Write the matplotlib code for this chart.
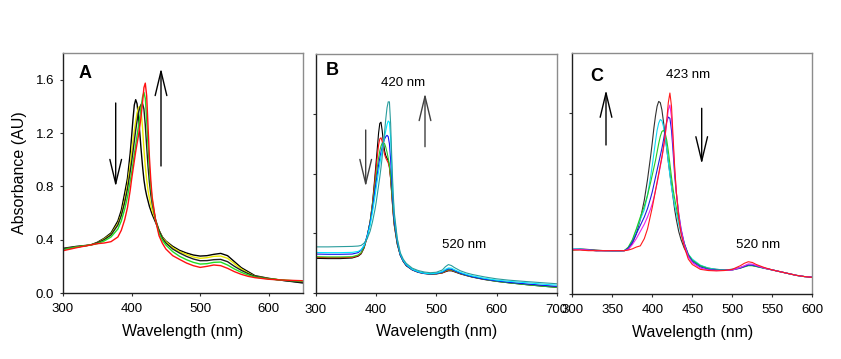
import matplotlib
matplotlib.use("Agg")
import matplotlib.pyplot as plt
from matplotlib.ticker import FormatStrFormatter

plt.rcParams['font.family'] = ['Liberation Sans', 'DejaVu Sans']

# ---------------- Panel A data ----------------
wl_a = [300, 320, 340, 350, 360, 370, 380, 385, 390, 394, 398, 400, 402, 404, 406, 408, 410, 412,
        414, 416, 418, 420, 422, 424, 426, 428, 430, 435, 440, 445, 450, 460, 470, 480, 490, 500,
        510, 520, 530, 540, 550, 560, 570, 580, 600, 620, 650]
a_black1 = [.335, .35, .36, .38, .41, .45, .54, .62, .75, .86, 1.05, 1.17, 1.30, 1.41, 1.45, 1.42, 1.32, 1.20,
            1.07, .95, .85, .78, .73, .69, .65, .62, .59, .53, .47, .42, .39, .35, .32, .30, .285, .277,
            .28, .29, .297, .28, .235, .19, .16, .13, .11, .095, .075]
a_yellow = [.33, .345, .36, .375, .405, .44, .52, .59, .70, .81, .96, 1.05, 1.14, 1.22, 1.29, 1.35, 1.39, 1.40,
            1.36, 1.24, 1.08, .95, .85, .77, .71, .66, .62, .545, .47, .415, .385, .34, .31, .29, .27, .26,
            .265, .275, .277, .26, .22, .18, .15, .125, .108, .097, .085]
a_black2 = [.33, .345, .36, .375, .40, .435, .51, .58, .68, .78, .91, .98, 1.06, 1.14, 1.22, 1.29, 1.35, 1.39,
            1.415, 1.42, 1.38, 1.26, 1.10, .95, .83, .74, .67, .55, .47, .41, .375, .33, .30, .275, .255, .242,
            .243, .25, .252, .235, .20, .17, .145, .125, .108, .095, .08]
a_green = [.325, .345, .36, .37, .39, .42, .48, .54, .63, .72, .84, .90, .97, 1.04, 1.11, 1.18, 1.25, 1.32,
           1.40, 1.47, 1.505, 1.46, 1.30, 1.10, .93, .80, .70, .545, .45, .395, .36, .31, .275, .25, .23, .217,
           .22, .23, .232, .21, .18, .155, .135, .12, .105, .097, .088]
a_red = [.317, .34, .36, .37, .375, .385, .42, .47, .55, .64, .77, .85, .92, .99, 1.06, 1.12, 1.18, 1.25,
         1.33, 1.43, 1.54, 1.574, 1.48, 1.25, 1.02, .85, .72, .546, .43, .372, .33, .28, .252, .225, .205, .192,
         .20, .21, .205, .185, .16, .14, .125, .115, .103, .097, .092]
series_a = [(a_black1, 'black'), (a_yellow, '#e8e800'), (a_black2, '#202020'),
            (a_green, '#22dd22'), (a_red, '#ff1010')]

# ---------------- Panel B data ----------------
wl_b = [300, 320, 340, 360, 370, 375, 380, 385, 390, 394, 398, 400, 402, 404, 406, 408, 410, 412, 414,
        416, 418, 420, 422, 424, 426, 428, 430, 435, 440, 445, 450, 460, 470, 480, 490, 500, 510, 515,
        520, 525, 530, 540, 550, 560, 580, 600, 620, 650, 680, 700]
b_black = [.292, .29, .29, .295, .31, .33, .38, .47, .60, .76, .98, 1.10, 1.22, 1.34, 1.42, 1.43, 1.36, 1.26, 1.19,
           1.15, 1.13, 1.11, 1.06, .96, .82, .68, .57, .41, .32, .265, .23, .195, .175, .165, .16, .162, .17, .18,
           .188, .188, .18, .162, .148, .135, .115, .10, .088, .072, .058, .05]
b_red = [.30, .298, .298, .30, .315, .335, .385, .47, .60, .75, .95, 1.05, 1.15, 1.24, 1.29, 1.30, 1.27, 1.21, 1.16,
         1.13, 1.11, 1.09, 1.05, .96, .83, .69, .58, .42, .32, .27, .235, .198, .178, .167, .162, .163, .172, .183,
         .193, .192, .183, .165, .15, .137, .117, .102, .09, .075, .062, .055]
b_green = [.306, .304, .304, .306, .32, .34, .39, .48, .60, .74, .90, .98, 1.06, 1.13, 1.19, 1.23, 1.255, 1.26, 1.25,
           1.22, 1.18, 1.13, 1.07, .98, .85, .71, .59, .42, .32, .27, .235, .198, .178, .167, .162, .164, .175, .188,
           .198, .196, .186, .166, .15, .137, .117, .10, .088, .072, .058, .05]
b_blue = [.328, .326, .326, .328, .34, .36, .40, .48, .59, .71, .86, .93, 1.0, 1.07, 1.13, 1.18, 1.22, 1.26, 1.29,
          1.31, 1.32, 1.31, 1.25, 1.12, .93, .75, .61, .43, .32, .27, .235, .197, .177, .166, .162, .165, .178, .193,
          .205, .202, .19, .168, .152, .138, .118, .104, .092, .078, .065, .058]
b_cyan = [.341, .34, .34, .342, .35, .365, .40, .47, .57, .68, .81, .88, .95, 1.02, 1.08, 1.14, 1.20, 1.26, 1.31,
          1.36, 1.41, 1.44, 1.43, 1.30, 1.05, .82, .65, .45, .33, .275, .24, .20, .18, .168, .164, .168, .182, .20,
          .212, .21, .197, .175, .158, .145, .125, .11, .10, .088, .075, .068]
b_teal = [.388, .388, .39, .392, .395, .40, .42, .455, .52, .60, .70, .76, .83, .90, .97, 1.05, 1.14, 1.24, 1.35,
          1.46, 1.55, 1.60, 1.60, 1.42, 1.12, .86, .68, .46, .34, .285, .25, .21, .19, .178, .172, .176, .195, .222,
          .24, .232, .215, .188, .17, .157, .137, .121, .11, .098, .087, .08]
series_b = [(b_black, 'black'), (b_red, '#ff1010'), (b_green, '#22cc22'), (b_blue, '#1010ee'),
            (b_cyan, '#00e8ff'), (b_teal, '#2a9d9d')]

# ---------------- Panel C data ----------------
wl_c = [300, 310, 320, 330, 340, 350, 360, 365, 370, 375, 380, 385, 390, 394, 398, 400, 402, 404, 406, 408,
        410, 412, 414, 416, 418, 420, 422, 424, 426, 428, 430, 433, 436, 440, 445, 450, 460, 470, 480, 490,
        500, 510, 515, 520, 525, 530, 540, 550, 560, 570, 580, 590, 600]
c_black = [.37, .375, .37, .365, .36, .36, .36, .36, .375, .42, .50, .62, .78, .95, 1.15, 1.26, 1.38, 1.48, 1.56, 1.60,
           1.59, 1.53, 1.43, 1.32, 1.21, 1.10, 1.0, .90, .80, .70, .62, .52, .45, .38, .32, .28, .235, .215, .205, .20,
           .205, .22, .23, .238, .237, .23, .215, .20, .185, .17, .155, .145, .14]
c_cyan = [.375, .375, .365, .36, .36, .355, .355, .36, .385, .44, .53, .62, .70, .82, .98, 1.07, 1.17, 1.27, 1.36, 1.42,
          1.45, 1.44, 1.39, 1.31, 1.21, 1.10, .99, .89, .81, .73, .68, .58, .50, .41, .33, .29, .24, .215, .205, .20,
          .205, .22, .23, .24, .24, .23, .215, .20, .185, .17, .155, .145, .14]
c_green = [.365, .37, .365, .36, .36, .36, .36, .36, .39, .45, .54, .64, .73, .82, .93, .99, 1.05, 1.11, 1.18, 1.25,
           1.31, 1.35, 1.36, 1.34, 1.28, 1.19, 1.08, .97, .87, .79, .72, .62, .52, .42, .33, .28, .235, .21, .20, .198,
           .20, .215, .225, .235, .235, .228, .213, .20, .185, .17, .155, .145, .14]
c_blue = [.37, .37, .365, .36, .36, .36, .36, .36, .38, .43, .50, .57, .64, .71, .80, .85, .91, .97, 1.03, 1.09,
          1.15, 1.21, 1.28, 1.36, 1.43, 1.47, 1.46, 1.36, 1.18, .98, .84, .67, .54, .42, .32, .27, .225, .205, .198, .197,
          .20, .215, .228, .24, .24, .232, .215, .20, .185, .17, .155, .145, .14]
c_magenta = [.37, .37, .365, .36, .36, .36, .36, .36, .37, .41, .46, .52, .58, .64, .71, .75, .80, .86, .92, .99,
             1.06, 1.13, 1.21, 1.31, 1.42, 1.53, 1.57, 1.47, 1.25, 1.03, .85, .66, .53, .41, .31, .26, .215, .20, .195, .196,
             .20, .22, .235, .25, .248, .237, .215, .20, .185, .17, .155, .145, .14]
c_red = [.365, .365, .36, .36, .36, .36, .36, .36, .365, .375, .39, .40, .46, .54, .66, .72, .79, .86, .93, 1.00,
         1.07, 1.14, 1.22, 1.32, 1.44, 1.59, 1.67, 1.56, 1.30, 1.05, .85, .64, .50, .39, .29, .245, .205, .195, .192, .195,
         .205, .235, .255, .268, .262, .245, .22, .20, .185, .17, .155, .145, .138]
series_c = [(c_black, '#303030'), (c_cyan, '#10d8f0'), (c_green, '#22cc22'), (c_blue, '#2020dd'),
            (c_magenta, '#ee22ee'), (c_red, '#ff1a1a')]

x_label = 'Wavelength (nm)'
y_label = 'Absorbance (AU)'

W, H = 841, 359
fig = plt.figure(figsize=(W / 100, H / 100), dpi=100)


def add_ax(l, r, t, b):
    return fig.add_axes([l / W, (H - b) / H, (r - l) / W, (b - t) / H])


axA = add_ax(63, 303, 53, 293)
axB = add_ax(316, 556.7, 54, 293.3)
axC = add_ax(572.3, 812.3, 53.3, 294)

for ax, wl, series, lw in [(axA, wl_a, series_a, 1.0), (axB, wl_b, series_b, 0.8), (axC, wl_c, series_c, 0.8)]:
    for vals, col in series:
        ax.plot(wl, vals, color=col, lw=lw)
    for s in ['top', 'right']:
        ax.spines[s].set_color('#8c8c8c')
    for s in ['left', 'bottom']:
        ax.spines[s].set_color('#202020')
    for s in ax.spines.values():
        s.set_linewidth(1.0)
    ax.tick_params(direction='out', length=2.5, width=0.8, labelsize=9.5, color='#303030')
    ax.tick_params(axis='x', pad=5)
    ax.tick_params(axis='y', pad=4)
    ax.set_xlabel(x_label, fontsize=11.5, labelpad=6)

axA.set_xlim(300, 650)
axA.set_ylim(0, 1.8)
axA.set_xticks([300, 400, 500, 600])
axA.set_yticks([0, 0.4, 0.8, 1.2, 1.6])
axA.yaxis.set_major_formatter(FormatStrFormatter('%.1f'))
axA.set_ylabel(y_label, fontsize=11.5, labelpad=6)

axB.set_xlim(300, 700)
axB.set_ylim(0, 2.0)
axB.set_xticks([300, 400, 500, 600, 700])
axB.set_yticks([0, 0.5, 1.0, 1.5])
axB.set_yticklabels([])

axC.set_xlim(300, 600)
axC.set_ylim(0, 2.0)
axC.set_xticks([300, 350, 400, 450, 500, 550, 600])
axC.set_yticks([0, 0.5, 1.0, 1.5])
axC.set_yticklabels([])

# panel letters
fig.text(85 / W, 1 - 73 / H, 'A', fontsize=13, fontweight='bold', ha='center', va='center')
fig.text(332 / W, 1 - 70.7 / H, 'B', fontsize=13, fontweight='bold', ha='center', va='center')
fig.text(597 / W, 1 - 76.7 / H, 'C', fontsize=13, fontweight='bold', ha='center', va='center')

# peak annotations
fig.text(403.3 / W, 1 - 83.3 / H, '420 nm', fontsize=9.5, ha='center', va='center')
fig.text(464.3 / W, 1 - 245 / H, '520 nm', fontsize=9.5, ha='center', va='center')
fig.text(688.3 / W, 1 - 75 / H, '423 nm', fontsize=9.5, ha='center', va='center')
fig.text(758.3 / W, 1 - 245 / H, '520 nm', fontsize=9.5, ha='center', va='center')


def arrow(x, y0, y1, color='black'):
    fig.add_artist(matplotlib.patches.FancyArrowPatch(
        (x, H - y0), (x, H - y1), transform=None,
        arrowstyle='->,head_length=1.75,head_width=0.42', mutation_scale=10,
        color=color, lw=1.0, shrinkA=0, shrinkB=0))


arrow(115.7, 103, 186.7)
arrow(161, 166, 68.3)
arrow(365.7, 130, 186.7, '#404040')
arrow(425, 146.7, 93.3, '#404040')
arrow(606, 145, 90)
arrow(701.7, 108.3, 164)

fig.savefig('out.png', dpi=100)
